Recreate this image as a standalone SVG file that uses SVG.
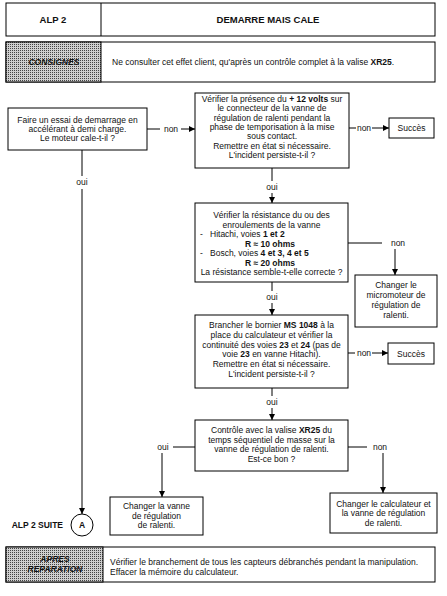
<svg xmlns="http://www.w3.org/2000/svg" width="447" height="596" viewBox="0 0 447 596">
<defs>
<pattern id="dots" width="2" height="2" patternUnits="userSpaceOnUse">
<rect width="2" height="2" fill="#cfcfcf"/>
<rect width="1" height="1" fill="#444"/>
</pattern>
<marker id="ah" viewBox="0 0 8 8" refX="8" refY="4" markerWidth="6" markerHeight="6" markerUnits="userSpaceOnUse" orient="auto">
<path d="M0,0 L8,4 L0,8 z" fill="#000"/>
</marker>
</defs>
<style>
text{font-family:"Liberation Sans",Arial,sans-serif;font-size:8.5px;fill:#111}
.c{text-anchor:middle}
.b{font-weight:bold}
.bi{font-weight:bold;font-style:italic}
.h{font-size:9.5px;font-weight:bold}
.box{fill:#fff;stroke:#000;stroke-width:1}
.ln{fill:none;stroke:#000;stroke-width:1}
.arr{fill:none;stroke:#000;stroke-width:1;marker-end:url(#ah)}
.gray{fill:url(#dots);stroke:#000;stroke-width:1}
</style>
<rect width="447" height="596" fill="#fff"/>

<g id="header">
<rect class="box" x="6" y="3" width="429" height="33"/>
<line class="ln" x1="101" y1="3" x2="101" y2="36"/>
<text class="c h" x="53" y="23">ALP 2</text>
<text class="c h" x="268" y="23">DEMARRE MAIS CALE</text>
</g>

<g id="consignes">
<rect class="box" x="6" y="42" width="429" height="40"/>
<rect class="gray" x="6" y="42" width="95" height="40"/>
<text class="c bi" x="54" y="65">CONSIGNES</text>
<text x="112" y="65">Ne consulter cet effet client, qu'après un contrôle complet à la valise <tspan class="b">XR25</tspan>.</text>
</g>

<g id="connectors">
<line class="ln" x1="147" y1="129" x2="160" y2="129"/>
<text class="c" x="171" y="131.5">non</text>
<line class="arr" x1="181" y1="129" x2="195" y2="129"/>
<line class="ln" x1="349" y1="128" x2="356" y2="128"/>
<text class="c" x="364" y="130.5">non</text>
<line class="arr" x1="372" y1="128" x2="389" y2="128"/>
<line class="ln" x1="272" y1="168" x2="272" y2="181"/>
<text class="c" x="272" y="190">oui</text>
<line class="arr" x1="272" y1="193" x2="272" y2="203"/>
<line class="ln" x1="348" y1="243" x2="382" y2="243"/>
<text class="c" x="398" y="245.5">non</text>
<line class="arr" x1="395" y1="249" x2="395" y2="275"/>
<line class="ln" x1="272" y1="282" x2="272" y2="291"/>
<text class="c" x="272" y="300">oui</text>
<line class="arr" x1="272" y1="303" x2="272" y2="315"/>
<line class="ln" x1="348" y1="353" x2="355" y2="353"/>
<text class="c" x="364" y="355.5">non</text>
<line class="arr" x1="372" y1="353" x2="388" y2="353"/>
<line class="ln" x1="272" y1="388" x2="272" y2="396"/>
<text class="c" x="272" y="405">oui</text>
<line class="arr" x1="272" y1="408" x2="272" y2="420"/>
<line class="ln" x1="195" y1="447" x2="173" y2="447"/>
<text class="c" x="163" y="449.5">oui</text>
<line class="arr" x1="162" y1="453" x2="162" y2="497"/>
<line class="ln" x1="348" y1="447" x2="367" y2="447"/>
<text class="c" x="380" y="449.5">non</text>
<line class="arr" x1="383" y1="453" x2="383" y2="493"/>
<line class="ln" x1="82" y1="150" x2="82" y2="176"/>
<text class="c" x="82" y="185">oui</text>
<line class="arr" x1="82" y1="189" x2="82" y2="514"/>
</g>

<g id="q1">
<rect class="box" x="8" y="108" width="139" height="42"/>
<text class="c" x="77.5" y="122.5">Faire un essai de demarrage en</text>
<text class="c" x="77.5" y="131.5">accélérant à demi charge.</text>
<text class="c" x="77.5" y="140.5">Le moteur cale-t-il ?</text>
</g>

<g id="q2">
<rect class="box" x="195" y="93" width="154" height="75"/>
<text class="c" x="272" y="102">Vérifier la présence du <tspan class="b">+ 12 volts</tspan> sur</text>
<text class="c" x="272" y="111.3">le connecteur de la vanne de</text>
<text class="c" x="272" y="120.6">régulation de ralenti pendant la</text>
<text class="c" x="272" y="130">phase de temporisation à la mise</text>
<text class="c" x="272" y="139.3">sous contact.</text>
<text class="c" x="272" y="148.6">Remettre en état si nécessaire.</text>
<text class="c" x="272" y="158">L'incident persiste-t-il ?</text>
</g>

<g id="succes1">
<rect class="box" x="389" y="118" width="45" height="20"/>
<text class="c" x="411.5" y="131">Succès</text>
</g>

<g id="q3">
<rect class="box" x="195" y="203" width="153" height="79"/>
<text class="c" x="271.5" y="218">Vérifier la résistance du ou des</text>
<text class="c" x="271.5" y="227.5">enroulements de la vanne</text>
<text x="200" y="237">-<tspan x="210">Hitachi, voies </tspan><tspan class="b">1 et 2</tspan></text>
<text class="b" x="245" y="246.5">R ≈ 10 ohms</text>
<text x="200" y="256">-<tspan x="210">Bosch, voies </tspan><tspan class="b">4 et 3, 4 et 5</tspan></text>
<text class="b" x="245" y="265.5">R ≈ 20 ohms</text>
<text class="c" x="271.5" y="275">La résistance semble-t-elle correcte ?</text>
</g>

<g id="micromoteur">
<rect class="box" x="355" y="275" width="82" height="52"/>
<text class="c" x="396" y="288">Changer le</text>
<text class="c" x="396" y="298">micromoteur de</text>
<text class="c" x="396" y="308">régulation de</text>
<text class="c" x="396" y="318">ralenti.</text>
</g>

<g id="q4">
<rect class="box" x="195" y="315" width="153" height="73"/>
<text class="c" x="271.5" y="328">Brancher le bornier <tspan class="b">MS 1048</tspan> à la</text>
<text class="c" x="271.5" y="337.8">place du calculateur et vérifier la</text>
<text class="c" x="271.5" y="347.6">continuité des voies <tspan class="b">23</tspan> et <tspan class="b">24</tspan> (pas de</text>
<text class="c" x="271.5" y="357.4">voie <tspan class="b">23</tspan> en vanne Hitachi).</text>
<text class="c" x="271.5" y="367.2">Remettre en état si nécessaire.</text>
<text class="c" x="271.5" y="377">L'incident persiste-t-il ?</text>
</g>

<g id="succes2">
<rect class="box" x="388" y="343" width="46" height="21"/>
<text class="c" x="411" y="356.5">Succès</text>
</g>

<g id="q5">
<rect class="box" x="195" y="420" width="153" height="51"/>
<text class="c" x="271.5" y="433">Contrôle avec la valise <tspan class="b">XR25</tspan> du</text>
<text class="c" x="271.5" y="442.5">temps séquentiel de masse sur la</text>
<text class="c" x="271.5" y="452">vanne de régulation de ralenti.</text>
<text class="c" x="271.5" y="461.5">Est-ce bon ?</text>
</g>

<g id="vanne">
<rect class="box" x="110" y="497" width="93" height="38"/>
<text class="c" x="156.5" y="509">Changer la vanne</text>
<text class="c" x="156.5" y="518.5">de régulation</text>
<text class="c" x="156.5" y="528">de ralenti.</text>
</g>

<g id="calculateur">
<rect class="box" x="330" y="493" width="107" height="40"/>
<text class="c" x="383.5" y="506.5">Changer le calculateur et</text>
<text class="c" x="383.5" y="516">la vanne de régulation</text>
<text class="c" x="383.5" y="525.5">de ralenti.</text>
</g>

<g id="suite">
<circle cx="82" cy="525" r="11" fill="#fff" stroke="#000" stroke-width="1"/>
<text class="c b" x="82" y="528">A</text>
<text class="b" x="63" y="528" text-anchor="end" font-size="7.5">ALP 2 SUITE</text>
</g>

<g id="apres">
<rect class="box" x="6" y="547" width="429" height="35"/>
<rect class="gray" x="6" y="547" width="97" height="35"/>
<text class="c bi" x="55" y="561.5">APRES</text>
<text class="c bi" x="55" y="572">REPARATION</text>
<text x="110" y="564.5">Vérifier le branchement de tous les capteurs débranchés pendant la manipulation.</text>
<text x="110" y="574.5">Effacer la mémoire du calculateur.</text>
</g>
</svg>
